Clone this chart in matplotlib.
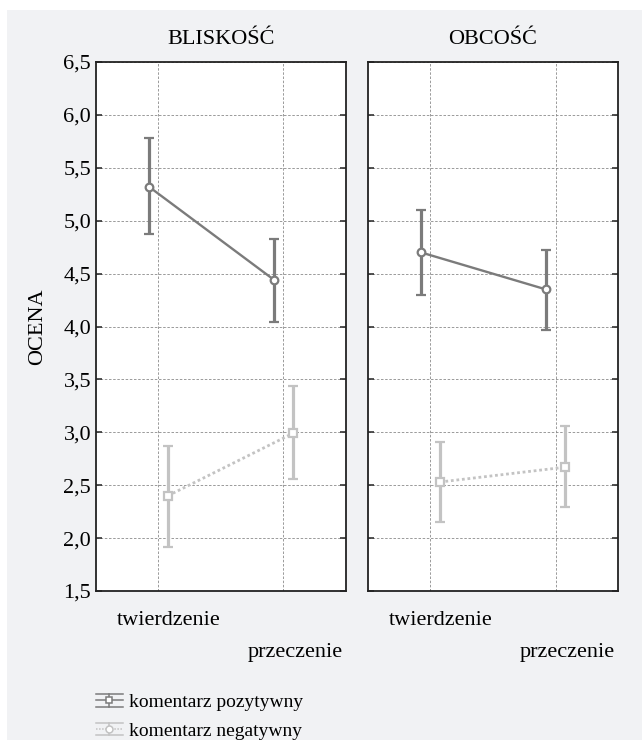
import matplotlib
matplotlib.use("Agg")
import matplotlib.pyplot as plt
from matplotlib.lines import Line2D
from matplotlib.patches import Rectangle
from matplotlib.legend_handler import HandlerBase

plt.rcParams["font.family"] = ["Liberation Serif", "DejaVu Serif"]

panels = ["BLISKOŚĆ", "OBCOŚĆ"]
conditions = ["twierdzenie", "przeczenie"]
series = ["komentarz pozytywny", "komentarz negatywny"]

# means and CI bounds per panel, per condition
pos_mean = [[5.32, 4.44], [4.70, 4.35]]
pos_low = [[4.87, 4.04], [4.30, 3.97]]
pos_high = [[5.78, 4.83], [5.10, 4.72]]

neg_mean = [[2.40, 2.99], [2.53, 2.67]]
neg_low = [[1.92, 2.56], [2.15, 2.29]]
neg_high = [[2.87, 3.44], [2.91, 3.06]]

yticks = [1.5, 2.0, 2.5, 3.0, 3.5, 4.0, 4.5, 5.0, 5.5, 6.0, 6.5]

DARK = "#7b7b7b"
LIGHT = "#c3c3c3"
BG = "#f1f2f4"


class ErrGlyph(HandlerBase):
    # legend symbol: line with marker, vertical whisker and wide caps
    def __init__(self, marker, ls):
        super().__init__()
        self.marker = marker
        self.ls = ls

    def create_artists(self, legend, orig_handle, xdescent, ydescent, width, height, fontsize, trans):
        c = orig_handle.get_color()
        cy = height / 2 - ydescent
        cx = width / 2 - xdescent
        half = height * 0.45
        x0, x1 = -xdescent, width - xdescent
        arts = [
            Line2D([x0, x1], [cy, cy], color=c, lw=1.1, ls=self.ls),
            Line2D([cx, cx], [cy - half, cy + half], color=c, lw=1.1),
            Line2D([x0, x1], [cy + half, cy + half], color=c, lw=1.1),
            Line2D([x0, x1], [cy - half, cy - half], color=c, lw=1.1),
            Line2D([cx], [cy], marker=self.marker, ms=5, mfc="white", mec=c, mew=1.1, color=c),
        ]
        for a in arts:
            a.set_transform(trans)
        return arts


fig = plt.figure(figsize=(6.42, 7.40), dpi=100, facecolor="white")
fig.patches.append(Rectangle((7 / 642, 0), 1, 1 - 10 / 740, transform=fig.transFigure,
                             facecolor=BG, edgecolor="none", zorder=-10))

lefts = [96 / 642, 368 / 642]
width = 250 / 642
bottom = (740 - 591) / 740
height = 529 / 740

for p in range(2):
    ax = fig.add_axes([lefts[p], bottom, width, height])
    ax.set_facecolor("white")
    x = [0, 1]
    off = 0.075
    xp = [v - off for v in x]
    xn = [v + off for v in x]

    m = pos_mean[p]
    err = [[m[i] - pos_low[p][i] for i in range(2)], [pos_high[p][i] - m[i] for i in range(2)]]
    ax.errorbar(xp, m, yerr=err, color=DARK, lw=1.7, elinewidth=2.3, capsize=3.8, capthick=2.3,
                marker="o", ms=5.5, mfc="white", mec=DARK, mew=1.6, zorder=3)

    m = neg_mean[p]
    err = [[m[i] - neg_low[p][i] for i in range(2)], [neg_high[p][i] - m[i] for i in range(2)]]
    ax.errorbar(xn, m, yerr=err, color=LIGHT, lw=2.0, ls=(0, (1, 1)), elinewidth=2.3, capsize=3.8,
                capthick=2.3, marker="s", ms=5.5, mfc="white", mec=LIGHT, mew=1.6, zorder=3)

    ax.set_xlim(-0.5, 1.5)
    ax.set_ylim(1.5, 6.5)
    ax.set_yticks(yticks)
    ax.set_xticks(x)
    ax.set_xticklabels([])
    ax.grid(True, color="#8a8a8a", ls=(0, (3, 2)), lw=0.6)
    ax.tick_params(axis="y", direction="in", length=4, width=1.2, left=True, right=True, color="#333333")
    ax.tick_params(axis="x", length=0)
    if p == 0:
        ax.set_yticklabels([f"{v:.1f}".replace(".", ",") for v in yticks], fontsize=16)
        ax.tick_params(axis="y", pad=3.5)
        ax.set_ylabel("OCENA", fontsize=16, labelpad=12)
    else:
        ax.set_yticklabels([])
    for s in ax.spines.values():
        s.set_linewidth(1.3)
        s.set_color("#222222")
    ax.set_title(panels[p], fontsize=16, pad=13)

    ax.text(0.085, -0.038, conditions[0], transform=ax.get_xaxis_transform(),
            ha="center", va="top", fontsize=16)
    ax.text(1.09, -0.098, conditions[1], transform=ax.get_xaxis_transform(),
            ha="center", va="top", fontsize=16)

handles = [Line2D([], [], color=DARK), Line2D([], [], color=LIGHT)]
fig.legend(handles, series, loc="lower left", bbox_to_anchor=(78 / 642, -17 / 740), frameon=False,
           fontsize=14, handlelength=1.4, handletextpad=0.3, labelspacing=0.55,
           handler_map={handles[0]: ErrGlyph("s", "-"), handles[1]: ErrGlyph("o", (0, (1, 1)))})

fig.savefig("out.png", dpi=100, facecolor=fig.get_facecolor())
